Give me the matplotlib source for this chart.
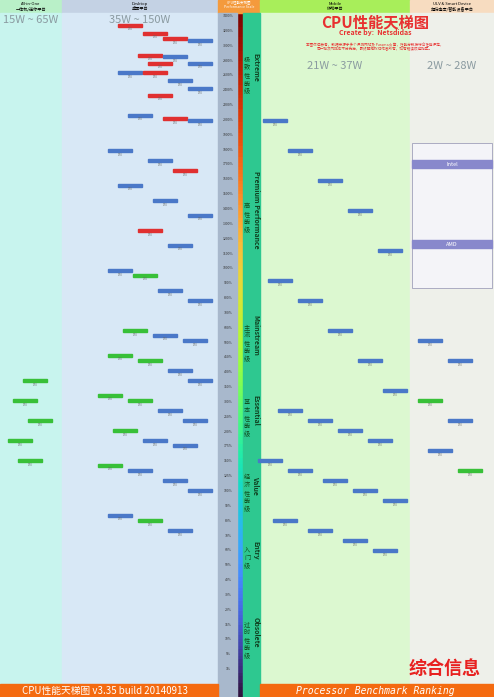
import matplotlib.pyplot as plt
from matplotlib.patches import Rectangle
import numpy as np

plt.rcParams['font.family'] = ['Noto Sans CJK SC', 'DejaVu Sans']

# column headers: (label, sub, x0, x1, colour)
columns = [("All-in-One", "一体机/迷你平台", 0, 62, "#b9f0c8"),
           ("Desktop", "桌面平台", 62, 218, "#c4d2e4"),
           ("", "", 218, 260, "#f49a3c"),
           ("Mobile", "移动平台", 260, 410, "#a8ee5a"),
           ("ULV & Smart Device", "超低电压/智能设备平台", 410, 494, "#f7dcc0")]
col_bg = ["#c8f4ee", "#d8e8f6", None, "#dcf8d0", "#eef0ea"]
power = [("15W ~ 65W", 31, 20), ("35W ~ 150W", 140, 20), ("21W ~ 37W", 335, 66), ("2W ~ 28W", 452, 66)]

# performance scale (percent of reference), top to bottom
scale_labels = ["3400%", "3200%", "3000%", "2800%", "2600%", "2400%", "2200%", "2000%", "1900%",
                "1800%", "1700%", "1600%", "1500%", "1400%", "1300%", "1200%", "1100%", "1000%",
                "900%", "800%", "700%", "600%", "500%", "450%", "400%", "350%", "300%", "250%",
                "200%", "175%", "150%", "125%", "100%", "90%", "80%", "70%", "60%", "50%",
                "40%", "30%", "20%", "15%", "10%", "5%", "1%"]

tiers = [("Extreme", "极致性能级", 15, 120), ("Premium Performance", "高性能级", 120, 300),
         ("Mainstream", "主流性能级", 300, 370), ("Essential", "基本性能级", 370, 450),
         ("Value", "经济性能级", 450, 520), ("Entry", "入门级", 520, 580),
         ("Obsolete", "过时性能级", 580, 684)]

# CPU entries: (column x, rank position, colour)
bars_x = [130, 155, 175, 200, 150, 175, 160, 200, 130, 155, 180, 200, 160, 140, 175, 200,
          120, 160, 185, 130, 165, 200, 150, 180, 120, 145, 170, 200, 135, 165, 195, 120,
          150, 180, 200, 110, 140, 170, 195, 125, 155, 185, 110, 140, 175, 200, 120, 150,
          180, 35, 25, 40, 20, 30, 275, 300, 330, 360, 390, 280, 310, 340, 370, 395, 290,
          320, 350, 380, 270, 300, 335, 365, 395, 285, 320, 355, 385, 430, 460, 430, 460, 440, 470]
bars_y = [25, 33, 38, 40, 55, 56, 63, 63, 72, 72, 80, 88, 95, 115, 118, 120, 150, 160, 170,
          185, 200, 215, 230, 245, 270, 275, 290, 300, 330, 335, 340, 355, 360, 370, 380, 395,
          400, 410, 420, 430, 440, 445, 465, 470, 480, 490, 515, 520, 530, 380, 400, 420, 440,
          460, 120, 150, 180, 210, 250, 280, 300, 330, 360, 390, 410, 420, 430, 440, 460, 470,
          480, 490, 500, 520, 530, 540, 550, 340, 360, 400, 420, 450, 470]
bars_c = ["#e03030", "#e03030", "#e03030", "#4a78c8", "#e03030", "#4a78c8", "#e03030", "#4a78c8",
          "#4a78c8", "#e03030", "#4a78c8", "#4a78c8", "#e03030", "#4a78c8", "#e03030", "#4a78c8",
          "#4a78c8", "#4a78c8", "#e03030", "#4a78c8", "#4a78c8", "#4a78c8", "#e03030", "#4a78c8",
          "#4a78c8", "#38c038", "#4a78c8", "#4a78c8", "#38c038", "#4a78c8", "#4a78c8", "#38c038",
          "#38c038", "#4a78c8", "#4a78c8", "#38c038", "#38c038", "#4a78c8", "#4a78c8", "#38c038",
          "#4a78c8", "#4a78c8", "#38c038", "#4a78c8", "#4a78c8", "#4a78c8", "#4a78c8", "#38c038",
          "#4a78c8", "#38c038", "#38c038", "#38c038", "#38c038", "#38c038", "#4a78c8", "#4a78c8",
          "#4a78c8", "#4a78c8", "#4a78c8", "#4a78c8", "#4a78c8", "#4a78c8", "#4a78c8", "#4a78c8",
          "#4a78c8", "#4a78c8", "#4a78c8", "#4a78c8", "#4a78c8", "#4a78c8", "#4a78c8", "#4a78c8",
          "#4a78c8", "#4a78c8", "#4a78c8", "#4a78c8", "#4a78c8", "#4a78c8", "#4a78c8", "#38c038",
          "#4a78c8", "#4a78c8", "#38c038"]

W, H = 494, 697
fig = plt.figure(figsize=(W / 100, H / 100), dpi=100)
ax = fig.add_axes([0, 0, 1, 1])
ax.set_xlim(0, W)
ax.set_ylim(H, 0)
ax.axis('off')

for (lab, sub, x0, x1, c), bg in zip(columns, col_bg):
    ax.add_patch(Rectangle((x0, 0), x1 - x0, 13, color=c))
    if bg:
        ax.add_patch(Rectangle((x0, 13), x1 - x0, 671, color=bg))
    ax.text((x0 + x1) / 2, 4, lab, ha='center', va='center', fontsize=3)
    ax.text((x0 + x1) / 2, 9, sub, ha='center', va='center', fontsize=3)
ax.text(239, 5, "CPU性能天梯图\nPerformance Scale", ha='center', va='center', fontsize=2.5, color='white')

for t, x, y in power:
    ax.text(x, y, t, ha='center', va='center', fontsize=8, color='#8a9aa0')

# scale column
ax.add_patch(Rectangle((218, 13), 19, 684, color='#a8b8cc'))
for i, s in enumerate(scale_labels):
    y = 16 + i * (668 / len(scale_labels))
    ax.text(228, y, s, ha='center', va='center', fontsize=2.5, color='#333')
# gradient bar
grad = np.linspace(0, 1, 200).reshape(-1, 1)
ax.imshow(grad, cmap='turbo_r', extent=(237, 243, 697, 13), aspect='auto')
ax.add_patch(Rectangle((243, 13), 17, 684, color='#2ec890'))
for name, cn, y0, y1 in tiers:
    ax.text(256, (y0 + y1) / 2, name, rotation=-90, ha='center', va='center', fontsize=5,
            fontweight='bold', color='#104020')
    ax.text(247, (y0 + y1) / 2 + 8, "\n".join(cn), ha='center', va='center', fontsize=4.5,
            color='#105020', linespacing=1.0)

for x, y, c in zip(bars_x, bars_y, bars_c):
    ax.add_patch(Rectangle((x - 12, y - 1.5), 24, 3.5, color=c))
    ax.text(x, y + 4.5, "CPU", ha='center', va='center', fontsize=1.8, color='#666')

ax.text(375, 22, "CPU性能天梯图", ha='center', va='center', fontsize=11, color='#e83030', fontweight='bold')
ax.text(375, 33, "Create by:  Netsdidas", ha='center', va='center', fontsize=5, color='#e83030', fontweight='bold')
ax.text(375, 47, "本图仅供参考，数据来源于多个评测网站及 Passmark 等，性能分数按综合性能评定，\n"
        "同一档次内排名不分先后，最终解释权归作者所有，如有错误欢迎指正。",
        ha='center', va='center', fontsize=2.6, color='#e83030')

# legend box on right
ax.add_patch(Rectangle((412, 143), 80, 145, facecolor='#f4f4f8', edgecolor='#9090b0', lw=0.5))
ax.add_patch(Rectangle((412, 160), 80, 8, color='#8888cc'))
ax.add_patch(Rectangle((412, 240), 80, 8, color='#8888cc'))
ax.text(452, 164, "Intel", ha='center', va='center', fontsize=4, color='white')
ax.text(452, 244, "AMD", ha='center', va='center', fontsize=4, color='white')

# footer
ax.add_patch(Rectangle((0, 684), 218, 13, color='#f46a10'))
ax.add_patch(Rectangle((260, 684), 234, 13, color='#f46a10'))
ax.text(105, 691, "CPU性能天梯图 v3.35 build 20140913", ha='center', va='center', fontsize=7,
        color='white', style='italic')
ax.text(375, 691, "Processor Benchmark Ranking", ha='center', va='center', fontsize=7,
        color='white', style='italic', family='DejaVu Sans Mono')
ax.text(445, 668, "综合信息", ha='center', va='center', fontsize=13, color='#e82020', fontweight='bold')

fig.savefig("out.png", dpi=100)
